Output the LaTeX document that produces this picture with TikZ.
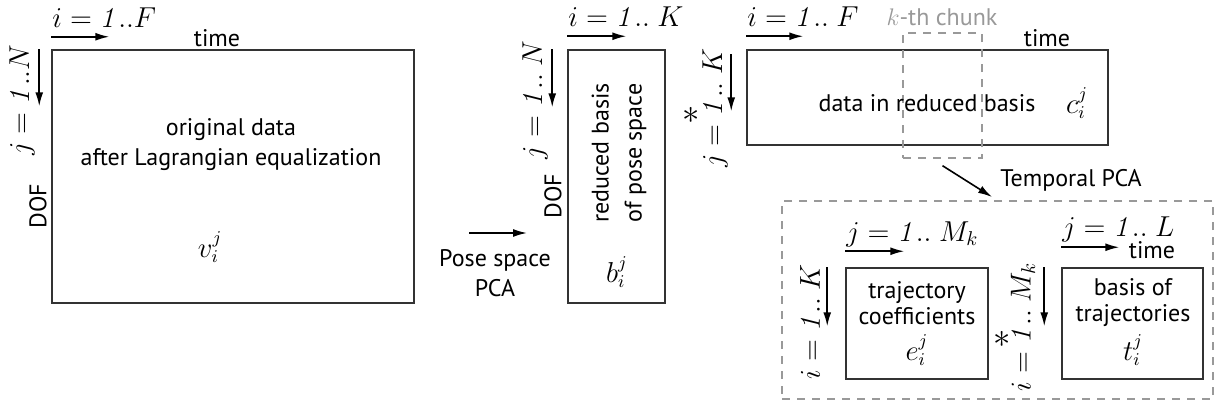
\documentclass[tikz,border=0pt]{standalone}
\usepackage[no-math]{fontspec}
\setmainfont{PT Sans}
\usetikzlibrary{arrows.meta}

\begin{document}
\begin{tikzpicture}[
    x=0.5pt, y=-0.5pt,
    every node/.style={font=\fontsize{12}{15}\selectfont, inner sep=0pt},
    mat/.style={draw=black!80, line width=0.75pt, inner sep=0pt},
    chunk/.style={draw=black!40, dash pattern=on 4pt off 3.5pt, line width=0.7pt},
    idx/.style={-{Latex[length=7pt,width=4pt]}, line width=0.8pt},
    idxlabel/.style={font=\fontsize{14}{16}\selectfont},
    elem/.style={font=\fontsize{13.5}{15}\selectfont},
    prodsign/.style={font=\fontsize{19}{19}\selectfont},
    gray/.style={text=black!40}
]
\useasboundingbox (0,0) rectangle (1217,412);
% matrices
\node[mat, minimum width=181pt, minimum height=126.5pt] (orig) at (233,176.5) {};
\node[mat, minimum width=48.5pt, minimum height=126.5pt] (pose) at (616.5,176.5) {};
\node[mat, minimum width=180.5pt, minimum height=47.5pt] (red) at (927.5,97.5) {};
\node[chunk, minimum width=39.5pt, minimum height=62.5pt] (chunk) at (942.5,95.5) {};
\node[chunk, minimum width=215.5pt, minimum height=99pt] (temporal) at (997.5,300) {};
\node[mat, minimum width=71pt, minimum height=55.5pt] (coef) at (917,323.5) {};
\node[mat, minimum width=70.5pt, minimum height=55.5pt] (traj) at (1132.5,323.5) {};

% original data
\node[idxlabel, anchor=west] (iorig) at (52,18) {$i = \mathit{1..}F$};
\node (torig) at (217,38) {time};
\node[idxlabel, rotate=90] (jorig) at (22,100) {$j = \mathit{1..}N$};
\node[rotate=90] (dorig) at (38,206) {DOF};
\node[align=center] (lorig) at (231,145) {original data\\after Lagrangian equalization};
\node[elem] (vorig) at (210,247) {$v_i^j$};
\draw[idx] ([yshift=6.25pt]orig.north west) -- ++(29pt,0);
\draw[idx] ([xshift=-6pt]orig.north west) -- ++(0,-28.5pt);

% pose space
\coordinate (psa) at (469,233);
\draw[idx] (psa) -- ++(29pt,0);
\node[align=center] (lpsa) at (495,273) {Pose space\\PCA};
\node[idxlabel, anchor=west] (ipose) at (568,17) {$i = \mathit{1..}\ K$};
\node[idxlabel, rotate=90] (jpose) at (535,100) {$j = \mathit{1..}\ N$};
\node[rotate=90] (dpose) at (553,196) {DOF};
\node[rotate=90, align=center, font=\fontsize{12}{16.5}\selectfont] (lpose) at (619,153) {reduced basis\\of pose space};
\node[elem] (bpose) at (617,272) {$b_i^j$};
\draw[idx] ([yshift=6.5pt]pose.north west) -- ++(29.5pt,0);
\draw[idx] ([xshift=-7.5pt]pose.north west) -- ++(0,-29pt);

% reduced basis
\node[prodsign] (sred) at (691,115) {$\ast$};
\node[idxlabel, anchor=west] (ired) at (747,17) {$i = \mathit{1..}\ F$};
\node[idxlabel, rotate=90] (jred) at (715,108) {$j = \mathit{1..}\ K$};
\node (tred) at (1047,38) {time};
\node (lred) at (927,103) {data in reduced basis};
\node[elem] (cred) at (1077,103) {$c_i^j$};
\node[gray] (lchunk) at (942,17) {$k$-th chunk};
\draw[idx] ([yshift=6.5pt]red.north west) -- ++(28.5pt,0);
\draw[idx] ([xshift=-7.5pt, yshift=-2.5pt]red.north west) -- ++(0,-28.5pt);

% temporal PCA
\coordinate (tpca) at (992,197);
\draw[idx] ([yshift=-3.5pt]chunk.south) -- (tpca);
\node[anchor=west] (ltpca) at (1000,180) {Temporal PCA};
\node[idxlabel, anchor=west] (jcoef) at (846,234) {$j = \mathit{1..}\ M_k$};
\node[idxlabel, rotate=90] (icoef) at (810,322) {$i = \mathit{1..}\ K$};
\node[align=center, font=\fontsize{12}{13}\selectfont] (lcoef) at (917,303) {trajectory\\coefficients};
\node[elem] (ecoef) at (917,350) {$e_i^j$};
\node[prodsign] (stemp) at (1002,339) {$\ast$};
\node[idxlabel, anchor=west] (jtraj) at (1062,229) {$j = \mathit{1..}\ L$};
\node (ttraj) at (1152,250) {time};
\node[idxlabel, rotate=90] (itraj) at (1023,327) {$i = \mathit{1..}\ M_k$};
\node[align=center, font=\fontsize{12}{13}\selectfont] (ltraj) at (1133,303) {basis of\\trajectories};
\node[elem] (ttraj2) at (1133,350) {$t_i^j$};
\draw[idx] ([yshift=8pt]coef.north west) -- ++(29.5pt,0);
\draw[idx] ([xshift=-9pt]coef.north west) -- ++(0,-29.5pt);
\draw[idx] ([yshift=10pt]traj.north west) -- ++(29pt,0);
\draw[idx] ([xshift=-8.5pt]traj.north west) -- ++(0,-29.5pt);
\end{tikzpicture}
\end{document}
